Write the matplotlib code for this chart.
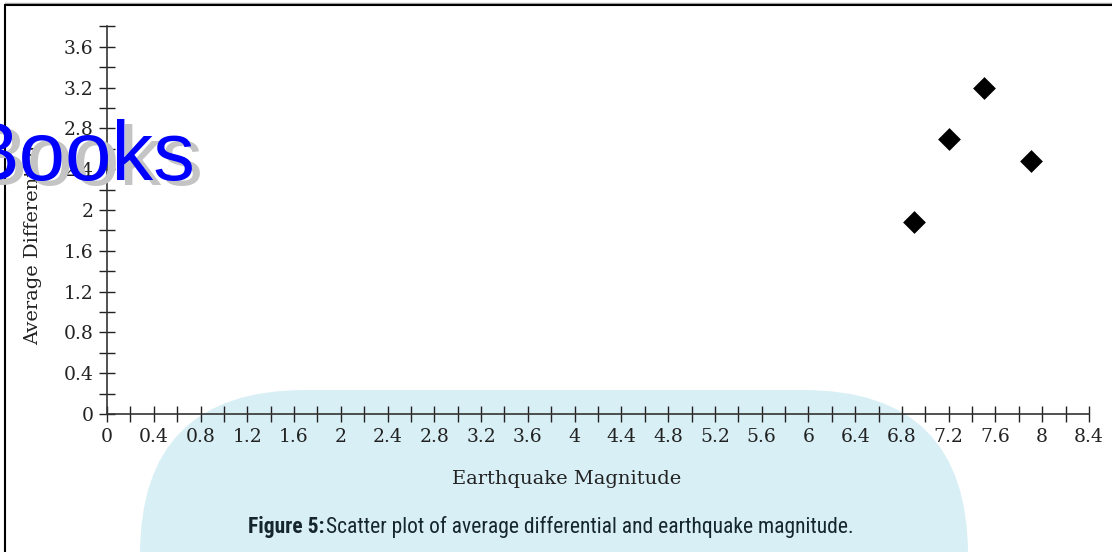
import numpy as np
import matplotlib
matplotlib.use("Agg")
import matplotlib.pyplot as plt
import matplotlib.transforms as mtransforms
from matplotlib.patches import FancyBboxPatch

# data
magnitude = [6.9, 7.2, 7.5, 7.9]
avg_diff = [1.88, 2.7, 3.2, 2.48]

x_major = [0, 0.4, 0.8, 1.2, 1.6, 2, 2.4, 2.8, 3.2, 3.6, 4, 4.4, 4.8,
           5.2, 5.6, 6, 6.4, 6.8, 7.2, 7.6, 8, 8.4]
x_labels = ["0", "0.4", "0.8", "1.2", "1.6", "2", "2.4", "2.8", "3.2", "3.6",
            "4", "4.4", "4.8", "5.2", "5.6", "6", "6.4", "6.8", "7.2", "7.6",
            "8", "8.4"]
y_major = [0, 0.4, 0.8, 1.2, 1.6, 2, 2.4, 2.8, 3.2, 3.6]
y_labels = ["0", "0.4", "0.8", "1.2", "1.6", "2", "2.4", "2.8", "3.2", "3.6"]

W, H = 1112, 552
fig = plt.figure(figsize=(W / 100, H / 100), dpi=100)

# background layer in pixel units (frame lines, blue rounded panel)
bg = fig.add_axes([0, 0, 1, 1], zorder=0)
bg.set_xlim(0, W); bg.set_ylim(H, 0)
bg.axis("off")
bg.add_patch(FancyBboxPatch((140, 390), 828, 500,
                            boxstyle="round,pad=0,rounding_size=165",
                            fc="#d8eff5", ec="none", lw=0))
bg.plot([5, W], [3, 3], color="#aaaaaa", lw=1)
bg.plot([5, W], [4.5, 4.5], color="black", lw=1.5, solid_capstyle="butt")
bg.plot([5, 5], [4, H], color="black", lw=1.5, solid_capstyle="butt")

ax = fig.add_axes([107 / W, 1 - 414 / H, 982 / W, 387.6 / H], zorder=1)
ax.set_facecolor("none")
ax.scatter(magnitude, avg_diff, marker="D", s=135, color="black",
           linewidths=0, zorder=3)

ax.set_xlim(0, 8.4)
ax.set_ylim(0, 3.8)
for s in ["top", "right"]:
    ax.spines[s].set_visible(False)
for s in ["left", "bottom"]:
    ax.spines[s].set_color("#333333")
    ax.spines[s].set_linewidth(1.2)

serif = "DejaVu Serif"
ink = "#222222"
ax.set_xticks(x_major)
ax.set_xticklabels(x_labels, family=serif, fontsize=13.5, color=ink)
ax.set_yticks(y_major)
ax.set_yticklabels(y_labels, family=serif, fontsize=13.5, color=ink)
ax.set_xticks(np.arange(0.2, 8.4, 0.4), minor=True)
ax.set_yticks(np.arange(0.2, 3.9, 0.4), minor=True)
ax.tick_params(which="both", direction="inout", length=11.5, width=1,
               color=ink, pad=4)

ax.set_xlabel("Earthquake Magnitude", family=serif, fontsize=14,
              color=ink, va="center")
ax.xaxis.set_label_coords((567 - 107) / 982, (414 - 479) / 387.6)

fig.text(33 / W, 1 - 345 / H, "Average Differential", family=serif,
         fontsize=14, color=ink, rotation=90, ha="center", va="bottom")

# caption: bold lead-in followed by the plain sentence
cap_font = ["Roboto Condensed", "Roboto", "DejaVu Sans"]
cap_col = "#16262e"
t1 = fig.text(248 / W, 1 - 533 / H, "Figure 5:", family=cap_font,
              fontweight="bold", fontsize=15.5, color=cap_col,
              ha="left", va="baseline", zorder=3)
top = fig.add_axes([0, 0, 1, 1], zorder=2)
top.axis("off")
top.annotate("Scatter plot of average differential and earthquake magnitude.",
             xy=(1, 0), xycoords=t1, xytext=(1, 0), textcoords="offset points",
             family=cap_font, fontsize=15.5, color=cap_col,
             ha="left", va="bottom")

# watermark with drop shadow
for dx, dy, c in [(8, -5, "#c4c4c4"), (0, 0, "#0000ff")]:
    fig.text(195 / W, 1 - 180 / H, "Books", family="Liberation Sans",
             fontsize=60, color=c, ha="right", va="baseline", zorder=5,
             transform=mtransforms.offset_copy(
                 fig.transFigure, fig=fig, x=dx, y=dy, units="dots"))

fig.savefig("out.png", dpi=100)
